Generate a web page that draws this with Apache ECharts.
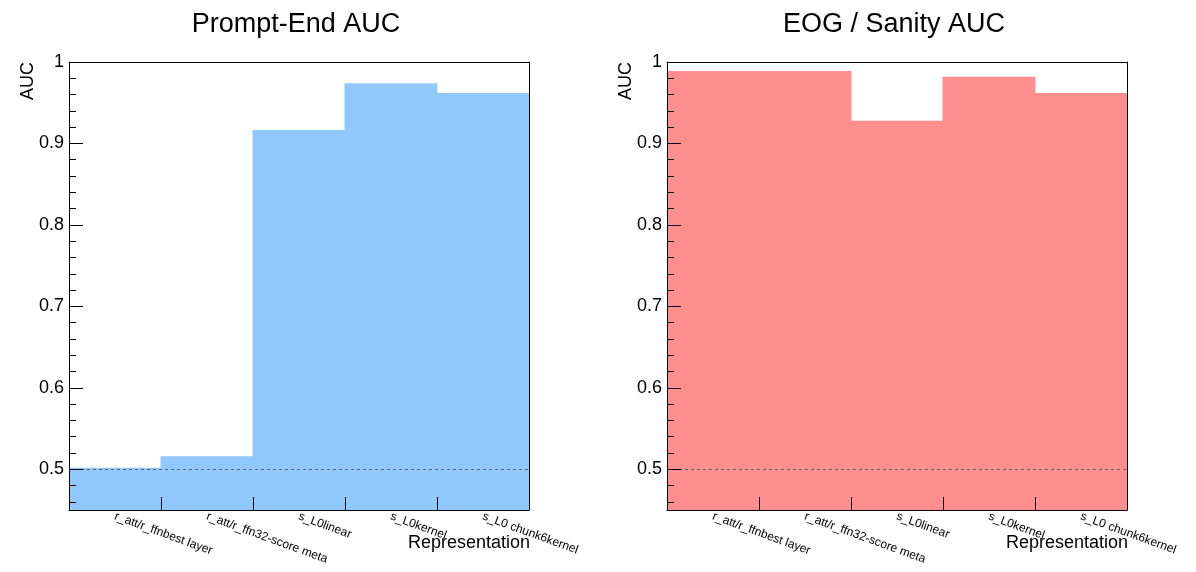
<!DOCTYPE html>
<html>
<head>
<meta charset="utf-8">
<script src="https://cdn.jsdelivr.net/npm/echarts@6/dist/echarts.min.js"></script>
<style>html,body{margin:0;padding:0;background:#fff}#c{width:1196px;height:572px}</style>
</head>
<body>
<div id="c"></div>
<script>
var categories = ["r_att/r_ffnbest layer", "r_att/r_ffn32-score meta", "s_L0linear", "s_L0kernel", "s_L0 chunk6kernel"];
var promptEndAUC = [0.502, 0.516, 0.9165, 0.974, 0.962];
var eogSanityAUC = [0.989, 0.989, 0.928, 0.982, 0.962];
var titles = ["Prompt-End AUC", "EOG / Sanity AUC"];
var yMajorTicks = [0.5, 0.6, 0.7, 0.8, 0.9, 1.0];
var yMinorTicks = [0.46, 0.48, 0.52, 0.54, 0.56, 0.58, 0.62, 0.64, 0.66, 0.68, 0.72, 0.74, 0.76, 0.78, 0.82, 0.84, 0.86, 0.88, 0.92, 0.94, 0.96, 0.98];
var refLine = 0.5;
var yMin = 0.45, yMax = 1.0;

var FONT = "Liberation Sans, Arial, Helvetica, sans-serif";
var chart = echarts.init(document.getElementById('c'));

var grids = [
  {left: 69, top: 62, width: 460, height: 448, outerBoundsMode: 'none', containLabel: false},
  {left: 667, top: 62, width: 460, height: 448, outerBoundsMode: 'none', containLabel: false}
];
var colors = ['#90c8fd', '#ff8e8e'];
var datas = [promptEndAUC, eogSanityAUC];

var option = {
  backgroundColor: '#fff',
  animation: false,
  title: [],
  grid: grids,
  xAxis: [],
  yAxis: [],
  series: []
};

function fmt(v) { return String(+(+v).toFixed(2)); }

for (var g = 0; g < 2; g++) {
  var cx = grids[g].left + grids[g].width / 2;
  option.title.push({
    text: titles[g], left: cx - 3, top: 11, textAlign: 'center', padding: 0,
    textStyle: {fontFamily: FONT, fontSize: 27, fontWeight: 'normal', color: '#000'}
  });
  // main bottom x axis
  option.xAxis.push({
    type: 'category', gridIndex: g, data: categories, position: 'bottom', z: 10,
    boundaryGap: true,
    name: 'Representation', nameLocation: 'end', nameGap: -121, nameMoveOverlap: false,
    nameTextStyle: {fontFamily: FONT, fontSize: 18, color: '#000', verticalAlign: 'top', padding: [24, 0, 0, 0]},
    axisLine: {lineStyle: {color: '#000', width: 1}},
    axisTick: {show: true, inside: true, length: 13, lineStyle: {color: '#000'}},
    axisLabel: {interval: 0, rotate: -20, margin: 6, fontFamily: FONT, fontSize: 12, color: '#000'},
    splitLine: {show: false}
  });
  // top frame
  option.xAxis.push({
    type: 'category', gridIndex: g, data: categories, position: 'top', z: 10,
    axisLine: {lineStyle: {color: '#000', width: 1}},
    axisTick: {show: false}, axisLabel: {show: false}, splitLine: {show: false}
  });
  // left y axis with major ticks + labels
  option.yAxis.push({
    type: 'value', gridIndex: g, min: yMin, max: yMax, position: 'left', z: 10,
    name: 'AUC', nameLocation: 'end', nameGap: 0, nameRotate: 90, nameMoveOverlap: false,
    nameTextStyle: {fontFamily: FONT, fontSize: 18, color: '#000', align: 'right', verticalAlign: 'bottom', padding: [0, 0, 32, 0]},
    axisLine: {show: true, lineStyle: {color: '#000', width: 1}},
    axisTick: {show: true, inside: true, length: 14, customValues: yMajorTicks, lineStyle: {color: '#000'}},
    axisLabel: {customValues: yMajorTicks, margin: 5, formatter: fmt, fontFamily: FONT, fontSize: 18, color: '#000'},
    splitLine: {show: false}
  });
  // minor ticks
  option.yAxis.push({
    type: 'value', gridIndex: g, min: yMin, max: yMax, position: 'left', offset: 0, z: 10,
    axisLine: {show: false},
    axisTick: {show: true, inside: true, length: 7, customValues: yMinorTicks, lineStyle: {color: '#000'}},
    axisLabel: {show: false},
    splitLine: {show: false}
  });
  // right frame
  option.yAxis.push({
    type: 'value', gridIndex: g, min: yMin, max: yMax, position: 'right', z: 10,
    axisLine: {show: true, lineStyle: {color: '#000', width: 1}},
    axisTick: {show: false}, axisLabel: {show: false}, splitLine: {show: false}
  });
  option.series.push({
    type: 'bar', xAxisIndex: g * 2, yAxisIndex: g * 3,
    data: datas[g], barWidth: '101%', barCategoryGap: '0%',
    itemStyle: {color: colors[g]},
    markLine: {
      silent: true, symbol: 'none', z: 8,
      label: {show: false},
      lineStyle: {color: '#5a6270', type: [3, 3], width: 1},
      data: [{yAxis: refLine}]
    }
  });
}

chart.setOption(option);
</script>
</body>
</html>
